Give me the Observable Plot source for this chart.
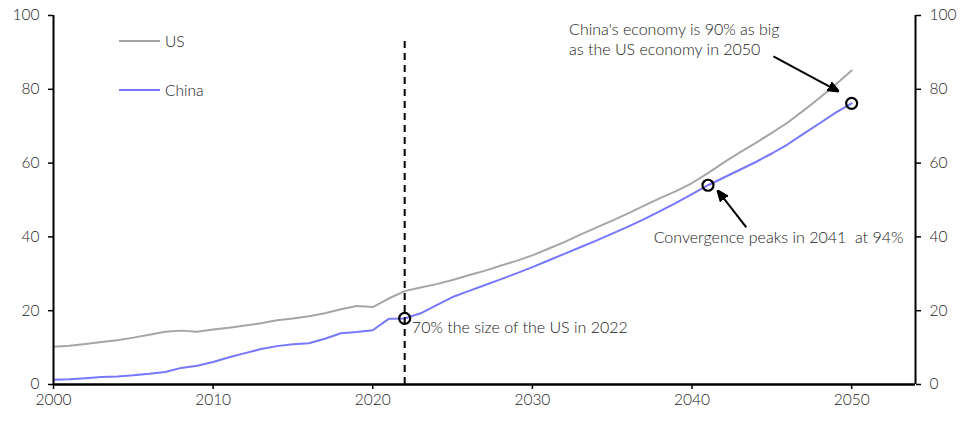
<!DOCTYPE html>
<html>
<head>
<meta charset="utf-8">
<script src="https://cdn.jsdelivr.net/npm/d3@7"></script>
<script src="https://cdn.jsdelivr.net/npm/@observablehq/plot@0.6"></script>
<style>
  html, body { margin: 0; padding: 0; background: #fff; }
  #wrap { position: relative; width: 965px; height: 422px; font-family: Lato, "Open Sans", sans-serif; }
  #legend { position: absolute; left: 119px; top: 30px; font-size: 15.5px; color: #222; font-weight: 300; }
  #legend .row { display: flex; align-items: center; height: 22px; }
  #legend .sw { width: 41px; height: 2px; margin-right: 5px; }
</style>
</head>
<body>
<div id="wrap"></div>
<script>
const years = d3.range(2000, 2051);
const usValues = [
  10.2, 10.5, 11.0, 11.5, 12.0, 12.7, 13.5, 14.3, 14.6, 14.3,
  14.9, 15.4, 16.0, 16.6, 17.4, 17.9, 18.5, 19.3, 20.4, 21.3,
  21.0, 23.3, 25.3, 26.3, 27.2, 28.3, 29.6, 30.8, 32.2, 33.5,
  35.0, 36.8, 38.6, 40.6, 42.5, 44.4, 46.4, 48.5, 50.5, 52.4,
  54.6, 57.3, 60.2, 62.9, 65.5, 68.2, 71.0, 74.3, 77.7, 81.3,
  85.1
];
const chinaValues = [
  1.3, 1.4, 1.7, 2.0, 2.2, 2.5, 2.9, 3.4, 4.5, 5.1,
  6.1, 7.4, 8.5, 9.6, 10.4, 10.9, 11.2, 12.4, 13.9, 14.2,
  14.7, 17.8, 17.9, 19.3, 21.5, 23.7, 25.3, 26.9, 28.5, 30.1,
  31.8, 33.6, 35.4, 37.2, 39.0, 40.9, 42.8, 44.8, 47.0, 49.2,
  51.6, 54.0, 56.1, 58.2, 60.3, 62.6, 65.1, 68.0, 70.8, 73.7,
  76.2
];
const seriesNames = ["US", "China"];
const seriesColors = ["#a6a6a6", "#7777ff"];
const xTicks = [2000, 2010, 2020, 2030, 2040, 2050];
const yTicks = [0, 20, 40, 60, 80, 100];
const xDomain = [2000, 2054];
const yDomain = [0, 100];

// annotations
const markedYears = [2022, 2041, 2050];
const dashedYear = 2022;
const dashedTop = 93.2;
const notes = [
  {x: 2022.45, y: 15.8, text: "70% the size of the US in 2022", spacing: 0.2},
  {x: 2032.3, y: 93.8, text: "China's economy is 90% as big\nas the US economy in 2050", spacing: 1.2},
  {x: 2037.6, y: 40.1, text: "Convergence peaks in 2041  at 94%", spacing: 0.3}
];
const arrows = [
  {x1: 2045.1, y1: 88.9, x2: 2049.2, y2: 79.4},
  {x1: 2043.4, y1: 42.6, x2: 2041.6, y2: 52.6}
];

const rows = [];
years.forEach((yr, i) => {
  rows.push({year: yr, value: usValues[i], series: "US"});
  rows.push({year: yr, value: chinaValues[i], series: "China"});
});
const circles = markedYears.map(yr => ({year: yr, value: chinaValues[years.indexOf(yr)]}));

const filledArrow = (color, context) => {
  const m = d3.create("svg:marker")
    .attr("viewBox", "-10 -5 10 10")
    .attr("markerWidth", 5.5)
    .attr("markerHeight", 5.5)
    .attr("markerUnits", "strokeWidth")
    .attr("orient", "auto")
    .attr("refX", 0)
    .attr("refY", 0);
  m.append("path").attr("d", "M-10,-4L0,0L-10,4Z").attr("fill", "#000");
  return m.node();
};

const chart = Plot.plot({
  width: 965,
  height: 422,
  marginLeft: 53,
  marginRight: 50,
  marginTop: 15,
  marginBottom: 38,
  style: {fontFamily: "Lato, 'Open Sans', sans-serif", fontSize: "15px", color: "#222", background: "#fff"},
  x: {domain: xDomain},
  y: {domain: yDomain},
  color: {domain: seriesNames, range: seriesColors},
  marks: [
    Plot.axisX({ticks: xTicks, tickFormat: d => String(d), tickSize: 5, tickPadding: 4, label: null, fontSize: 15.5, fontWeight: 300, stroke: "#000", strokeWidth: 1.5}),
    Plot.axisY({anchor: "left", ticks: yTicks, tickSize: 5, tickPadding: 9, label: null, fontSize: 15.5, fontWeight: 300, stroke: "#000", strokeWidth: 1.5}),
    Plot.axisY({anchor: "right", ticks: yTicks, tickSize: 5, tickPadding: 9, label: null, fontSize: 15.5, fontWeight: 300, stroke: "#000", strokeWidth: 1.5}),
    Plot.line(rows, {x: "year", y: "value", z: "series", stroke: "series", strokeWidth: 2}),
    Plot.ruleX([dashedYear], {y1: 0, y2: dashedTop, stroke: "#000", strokeWidth: 2, strokeDasharray: "7,5"}),
    Plot.ruleX([xDomain[0]], {stroke: "#000", strokeWidth: 2}),
    Plot.ruleX([xDomain[1]], {stroke: "#000", strokeWidth: 2}),
    Plot.ruleY([yDomain[0]], {stroke: "#000", strokeWidth: 2.5}),
    Plot.dot(circles, {x: "year", y: "value", r: 5.5, stroke: "#000", strokeWidth: 2.2, fill: "none"}),
    Plot.link(arrows, {x1: "x1", y1: "y1", x2: "x2", y2: "y2", stroke: "#000", strokeWidth: 2, markerEnd: filledArrow}),
    ...notes.map(n => Plot.text([n], {x: "x", y: "y", text: "text", textAnchor: "start", lineAnchor: "middle", lineHeight: 1.3, fontSize: 16, fontWeight: 300, fill: "#222", style: {letterSpacing: n.spacing + "px"}}))
  ]
});

// apply letter spacing on annotation text groups
const wrap = document.getElementById("wrap");
wrap.appendChild(chart);
const legend = document.createElement("div");
legend.id = "legend";
seriesNames.forEach((name, i) => {
  const row = document.createElement("div");
  row.className = "row";
  if (i > 0) row.style.marginTop = "27px";
  const sw = document.createElement("div");
  sw.className = "sw";
  sw.style.background = seriesColors[i];
  const lab = document.createElement("span");
  lab.textContent = name;
  row.appendChild(sw);
  row.appendChild(lab);
  legend.appendChild(row);
});
wrap.appendChild(legend);
</script>
</body>
</html>
